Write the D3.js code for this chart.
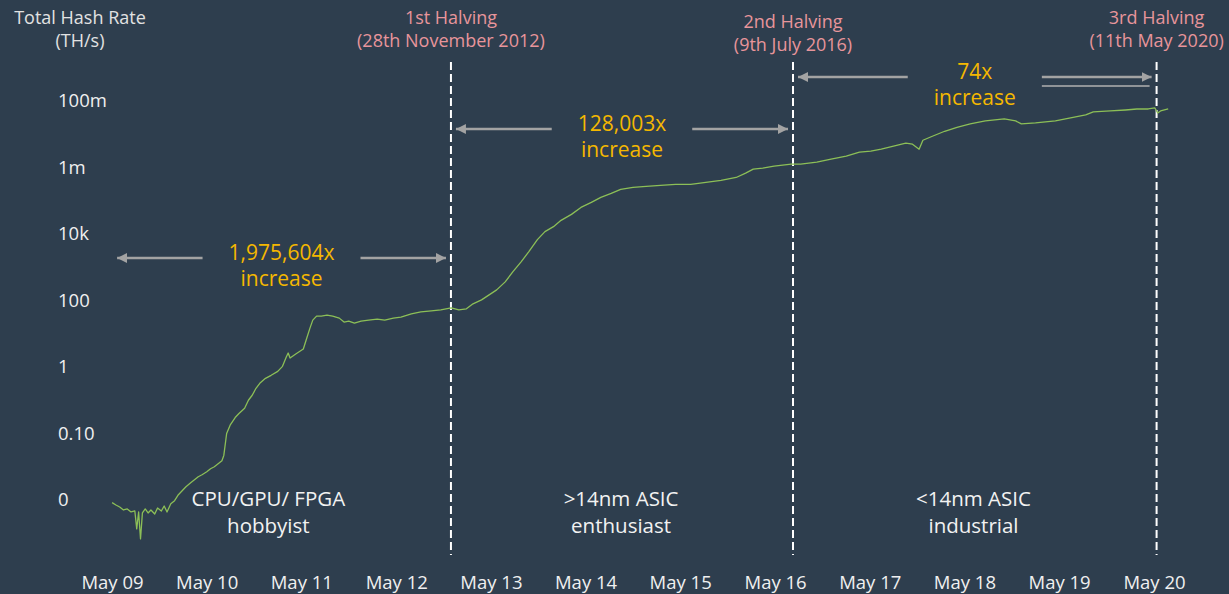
<!DOCTYPE html>
<html>
<head>
<meta charset="utf-8">
<script src="https://cdn.jsdelivr.net/npm/d3@7"></script>
<style>
  html, body { margin: 0; padding: 0; background: #2e3e4e; }
  svg { display: block; font-family: "Open Sans", sans-serif; }
</style>
</head>
<body>
<div id="chart"></div>
<script>
// hash rate series (decimal year, log10 of TH/s)
var lineYears = [2009.33,2009.37,2009.41,2009.45,2009.49,2009.53,2009.57,2009.59,2009.61,2009.63,
  2009.65,2009.68,2009.71,2009.74,2009.78,2009.81,2009.85,2009.88,2009.91,2009.95,
  2009.99,2010.03,2010.07,2010.11,2010.16,2010.20,2010.24,2010.28,2010.33,2010.37,
  2010.41,2010.45,2010.49,2010.51,2010.54,2010.58,2010.63,2010.67,2010.73,2010.77,
  2010.81,2010.85,2010.89,2010.95,2011.01,2011.08,2011.13,2011.17,2011.19,2011.21,
  2011.27,2011.35,2011.38,2011.42,2011.45,2011.49,2011.54,2011.60,2011.66,2011.73,
  2011.78,2011.83,2011.89,2011.96,2012.04,2012.13,2012.21,2012.30,2012.38,2012.49,
  2012.59,2012.70,2012.80,2012.91,2012.99,2013.07,2013.14,2013.23,2013.31,2013.39,
  2013.48,2013.56,2013.65,2013.73,2013.82,2013.90,2013.99,2014.07,2014.18,2014.28,
  2014.39,2014.49,2014.60,2014.70,2014.83,2014.97,2015.12,2015.28,2015.44,2015.60,
  2015.76,2015.92,2016.02,2016.10,2016.20,2016.32,2016.50,2016.60,2016.77,2016.92,
  2017.08,2017.22,2017.34,2017.45,2017.58,2017.71,2017.78,2017.85,2017.89,2017.99,
  2018.12,2018.25,2018.39,2018.55,2018.75,2018.87,2018.93,2019.08,2019.29,2019.45,
  2019.61,2019.69,2019.87,2020.03,2020.15,2020.27,2020.34,2020.37,2020.40,2020.48];

var hashRateLog10 = [-4.08,-4.15,-4.21,-4.30,-4.27,-4.36,-4.33,-4.87,-4.36,-5.17,
  -4.39,-4.27,-4.39,-4.30,-4.42,-4.24,-4.33,-4.18,-4.36,-4.11,
  -4.02,-3.84,-3.72,-3.60,-3.48,-3.39,-3.30,-3.24,-3.15,-3.06,
  -3.00,-2.91,-2.82,-2.66,-2.00,-1.73,-1.52,-1.40,-1.24,-1.00,
  -0.85,-0.64,-0.49,-0.34,-0.25,-0.13,0.02,0.30,0.42,0.27,
  0.39,0.54,0.81,1.17,1.41,1.53,1.53,1.56,1.53,1.47,
  1.35,1.38,1.32,1.38,1.41,1.44,1.41,1.47,1.50,1.60,
  1.66,1.69,1.72,1.78,1.72,1.75,1.90,2.02,2.17,2.32,
  2.56,2.86,3.17,3.47,3.83,4.07,4.22,4.41,4.59,4.80,
  4.95,5.10,5.22,5.34,5.40,5.43,5.46,5.49,5.49,5.55,
  5.61,5.70,5.83,5.95,5.98,6.04,6.10,6.10,6.16,6.25,
  6.34,6.46,6.49,6.55,6.64,6.73,6.70,6.55,6.82,6.94,
  7.09,7.21,7.31,7.40,7.46,7.40,7.31,7.34,7.40,7.49,
  7.58,7.67,7.70,7.73,7.76,7.76,7.79,7.64,7.70,7.76];

var yTickValues = [1e8, 1e6, 1e4, 1e2, 1, 1e-2, 1e-4];
var yTickLabels = ["100m", "1m", "10k", "100", "1", "0.10", "0"];

var xTickLabels = ["May 09","May 10","May 11","May 12","May 13","May 14",
  "May 15","May 16","May 17","May 18","May 19","May 20"];

var halvingDates = ["2012-11-28", "2016-07-09", "2020-05-11"];
var halvingNames = ["1st Halving", "2nd Halving", "3rd Halving"];
var halvingSubs = ["(28th November 2012)", "(9th July 2016)", "(11th May 2020)"];

var increaseLabels = ["1,975,604x", "128,003x", "74x"];

var eraLines1 = ["CPU/GPU/ FPGA", ">14nm ASIC", "<14nm ASIC"];
var eraLines2 = ["hobbyist", "enthusiast", "industrial"];
var eraCenters = ["2010-12-25", "2014-09-15", "2018-06-05"];

// layout
var width = 1229, height = 594;
var labelTop = [18, 22, 18];      // halving label first line
var arrowY = [258, 129, 77];

var parse = d3.timeParse("%Y-%m-%d");

function yearToDate(y) {
  var yr = Math.floor(y);
  var start = new Date(yr, 0, 1), end = new Date(yr + 1, 0, 1);
  return new Date(start.getTime() + (y - yr) * (end - start));
}

var series = lineYears.map(function(y, i) {
  return { date: yearToDate(y), value: Math.pow(10, hashRateLog10[i]) };
});

var svg = d3.select("#chart").append("svg")
  .attr("width", width)
  .attr("height", height);

svg.append("rect").attr("width", width).attr("height", height).attr("fill", "#2e3e4e");

var x = d3.scaleTime()
  .domain([new Date(2009, 4, 1), new Date(2020, 4, 1)])
  .range([112, 1154]);

var y = d3.scaleLog()
  .domain([1e-4, 1e8])
  .range([500, 101]);

// y axis title
svg.append("g").selectAll("text")
  .data(["Total Hash Rate", "(TH/s)"])
  .enter().append("text")
  .attr("x", 80)
  .attr("y", (d, i) => 18 + i * 23)
  .attr("dy", "0.35em")
  .attr("text-anchor", "middle")
  .attr("fill", "#e2e2e2")
  .style("font-size", "18px")
  .text(d => d);

// y axis
var yAxis = svg.append("g")
  .attr("transform", "translate(58,0)")
  .call(d3.axisLeft(y).tickValues(yTickValues).tickSize(0)
    .tickFormat((d, i) => yTickLabels[i]));
yAxis.select(".domain").remove();
yAxis.selectAll("text")
  .attr("x", 0)
  .attr("text-anchor", "start")
  .attr("fill", "#f0f0f0")
  .style("font-size", "18.5px")
  .style("font-family", "'Open Sans', sans-serif");

// x axis
var xTicks = xTickLabels.map((d, i) => new Date(2009 + i, 4, 1));
var xAxis = svg.append("g")
  .attr("transform", "translate(0,583)")
  .call(d3.axisBottom(x).tickValues(xTicks).tickSize(0)
    .tickFormat((d, i) => xTickLabels[i]));
xAxis.select(".domain").remove();
xAxis.selectAll("text")
  .attr("y", 0)
  .attr("dy", "0.35em")
  .attr("fill", "#f0f0f0")
  .style("font-size", "18.5px")
  .style("font-family", "'Open Sans', sans-serif");

// halving lines
var halvings = halvingDates.map(function(d, i) {
  return { date: parse(d), name: halvingNames[i], sub: halvingSubs[i], top: labelTop[i] };
});

svg.append("g").selectAll("line")
  .data(halvings)
  .enter().append("line")
  .attr("x1", d => x(d.date))
  .attr("x2", d => x(d.date))
  .attr("y1", 62)
  .attr("y2", 555)
  .attr("stroke", "#ffffff")
  .attr("stroke-width", 2)
  .attr("stroke-dasharray", "8,4");

var hLabels = svg.append("g").selectAll("text")
  .data(halvings)
  .enter().append("text")
  .attr("text-anchor", "middle")
  .attr("fill", "#e8959b")
  .style("font-size", "18px");
hLabels.append("tspan")
  .attr("x", d => x(d.date))
  .attr("y", d => d.top)
  .attr("dy", "0.35em")
  .text(d => d.name);
hLabels.append("tspan")
  .attr("x", d => x(d.date))
  .attr("y", d => d.top + 23)
  .attr("dy", "0.35em")
  .text(d => d.sub);

// hash rate line
var line = d3.line()
  .x(d => x(d.date))
  .y(d => y(d.value));

svg.append("path")
  .datum(series)
  .attr("d", line)
  .attr("fill", "none")
  .attr("stroke", "#8cbf57")
  .attr("stroke-width", 1.3)
  .attr("stroke-linejoin", "round");

// increase annotations
var defs = svg.append("defs");
defs.append("marker")
  .attr("id", "head")
  .attr("viewBox", "0 0 10 10")
  .attr("refX", 10)
  .attr("refY", 5)
  .attr("markerWidth", 4)
  .attr("markerHeight", 4)
  .attr("markerUnits", "strokeWidth")
  .attr("orient", "auto")
  .append("path")
  .attr("d", "M0,0L10,5L0,10Z")
  .attr("fill", "#a3a3a3");

var bounds = [series[0].date].concat(halvings.map(d => d.date));
var pad = 5;

increaseLabels.forEach(function(lab, i) {
  var x0 = x(bounds[i]) + pad;
  var x1 = x(bounds[i + 1]) - pad;
  var cx = (x0 + x1) / 2;
  var ay = arrowY[i];
  var g = svg.append("g");
  var t = g.append("text")
    .attr("text-anchor", "middle")
    .attr("fill", "#f5b800")
    .style("font-size", "21px");
  t.append("tspan").attr("x", cx).attr("y", ay - 5).attr("dy", "0.35em").text(lab);
  t.append("tspan").attr("x", cx).attr("y", ay + 21).attr("dy", "0.35em").text("increase");
  var half = d3.max(t.selectAll("tspan").nodes(), n => n.getComputedTextLength()) / 2 + 26;
  g.append("line")
    .attr("x1", cx - half).attr("x2", x0)
    .attr("y1", ay).attr("y2", ay)
    .attr("stroke", "#a3a3a3").attr("stroke-width", 2.5)
    .attr("marker-end", "url(#head)");
  g.append("line")
    .attr("x1", cx + half).attr("x2", x1)
    .attr("y1", ay).attr("y2", ay)
    .attr("stroke", "#a3a3a3").attr("stroke-width", 2.5)
    .attr("marker-end", "url(#head)");
  if (i == 2) {
    // stray underline under the last arrow
    g.append("line")
      .attr("x1", cx + half).attr("x2", x1 - 2)
      .attr("y1", ay + 9).attr("y2", ay + 9)
      .attr("stroke", "#b0b0b0").attr("stroke-width", 1.3);
  }
});

// era labels
var eras = svg.append("g").selectAll("text")
  .data(eraCenters)
  .enter().append("text")
  .attr("text-anchor", "middle")
  .attr("fill", "#f2f2f2")
  .style("font-size", "20.5px");
eras.append("tspan")
  .attr("x", d => x(parse(d)))
  .attr("y", 499)
  .attr("dy", "0.35em")
  .text((d, i) => eraLines1[i]);
eras.append("tspan")
  .attr("x", d => x(parse(d)))
  .attr("y", 526)
  .attr("dy", "0.35em")
  .text((d, i) => eraLines2[i]);
</script>
</body>
</html>
